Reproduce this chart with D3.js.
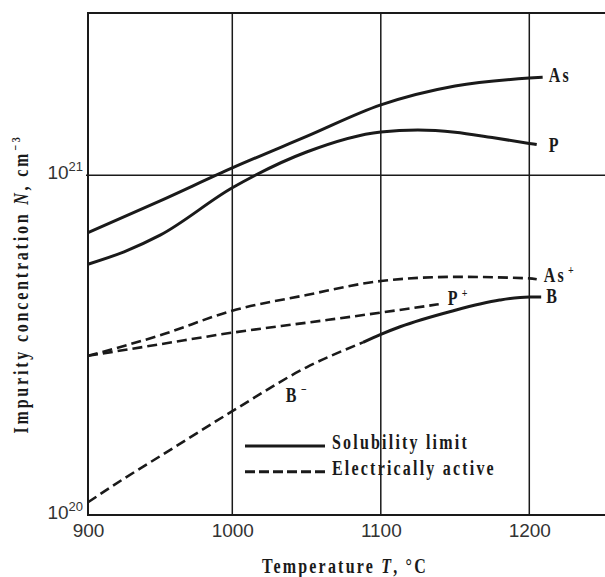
<!DOCTYPE html>
<html>
<head>
<meta charset="utf-8">
<script src="https://cdn.jsdelivr.net/npm/d3@7"></script>
<style>
  html, body { margin: 0; padding: 0; background: #fff; }
  svg { display: block; }
  .serif { font-family: "Liberation Serif", "Times New Roman", serif; font-weight: bold; fill: #1a1a1a; }
  .tick text { font-family: "Liberation Sans", Arial, sans-serif; fill: #333; }
</style>
</head>
<body>
<svg id="chart" width="605" height="577"></svg>
<script>
// ---- data ----
const xTickValues = [900, 1000, 1100, 1200];
const yTickValues = [1e20, 1e21];

const asT = [900, 950, 1000, 1050, 1100, 1150, 1200, 1209];
const asN = [6.78e20, 8.4e20, 1.05e21, 1.30e21, 1.61e21, 1.83e21, 1.93e21, 1.94e21];

const pT = [900, 925, 950, 1000, 1050, 1100, 1125, 1150, 1175, 1200, 1205];
const pN = [5.47e20, 5.95e20, 6.66e20, 9.18e20, 1.17e21, 1.34e21, 1.357e21, 1.338e21, 1.29e21, 1.24e21, 1.23e21];

const asPlusT = [900, 950, 1000, 1050, 1100, 1150, 1200, 1205];
const asPlusN = [2.94e20, 3.38e20, 3.99e20, 4.44e20, 4.88e20, 5.02e20, 4.97e20, 4.94e20];

const pPlusT = [900, 950, 1000, 1050, 1100, 1139];
const pPlusN = [2.94e20, 3.18e20, 3.44e20, 3.68e20, 3.94e20, 4.17e20];

const bMinusT = [900, 925, 950, 1000, 1050, 1088];
const bMinusN = [1.09e20, 1.28e20, 1.49e20, 2.02e20, 2.72e20, 3.22e20];

const bT = [1088, 1100, 1113, 1147, 1180, 1200, 1208];
const bN = [3.22e20, 3.40e20, 3.58e20, 3.97e20, 4.29e20, 4.38e20, 4.38e20];

const legendLabels = ["Solubility limit", "Electrically active"];

// ---- scales ----
const svg = d3.select("#chart");
const ink = "#1a1a1a";
const x = d3.scaleLinear()
  .domain([900, 1000, 1100, 1200, 1250])
  .range([88, 232.3, 380.8, 529.3, 603.5]);
const y = d3.scaleLog().domain([1e20, 3e21]).range([515, 13]);

const plotLeft = 88, plotRight = 607, plotTop = 13, plotBottom = 515;

// ---- grid ----
const grid = svg.append("g");
grid.selectAll("line.vg").data(xTickValues.slice(1)).join("line")
  .attr("x1", d => x(d)).attr("x2", d => x(d))
  .attr("y1", plotTop).attr("y2", plotBottom)
  .attr("stroke", ink).attr("stroke-width", 1.5);
grid.selectAll("line.hg").data([1e21]).join("line")
  .attr("x1", plotLeft - 2).attr("x2", plotRight)
  .attr("y1", d => y(d)).attr("y2", d => y(d))
  .attr("stroke", ink).attr("stroke-width", 1.5);

// frame: top, left, bottom
svg.append("line").attr("x1", plotLeft - 1).attr("x2", plotRight).attr("y1", plotTop).attr("y2", plotTop)
  .attr("stroke", ink).attr("stroke-width", 2);
svg.append("line").attr("x1", plotLeft).attr("x2", plotLeft).attr("y1", plotTop).attr("y2", plotBottom + 1)
  .attr("stroke", ink).attr("stroke-width", 2);
svg.append("line").attr("x1", plotLeft - 1).attr("x2", plotRight).attr("y1", plotBottom).attr("y2", plotBottom)
  .attr("stroke", ink).attr("stroke-width", 2);

// ---- axes (labels only) ----
const xAxis = svg.append("g").attr("transform", `translate(0,${plotBottom})`)
  .call(d3.axisBottom(x).tickValues(xTickValues).tickSize(0).tickPadding(9).tickFormat(d3.format("d")));
xAxis.select(".domain").remove();
xAxis.selectAll("text").attr("font-size", 19).attr("dy", "0.71em");

const yAxis = svg.append("g").attr("transform", `translate(${plotLeft},0)`)
  .call(d3.axisLeft(y).tickValues(yTickValues).tickSize(0).tickPadding(0).tickFormat(() => ""));
yAxis.select(".domain").remove();
yAxis.selectAll(".tick text").each(function(d) {
  const t = d3.select(this);
  t.attr("x", -5).attr("dy", "0.33em").attr("text-anchor", "end");
  t.append("tspan").attr("font-size", 19).text("10");
  t.append("tspan").attr("font-size", 13).attr("dy", -8).text(String(Math.round(Math.log10(d))));
});

// ---- curves ----
const line = d3.line().x(d => x(d[0])).y(d => y(d[1])).curve(d3.curveMonotoneX);
const zip = (a, b) => a.map((t, i) => [t, b[i]]);
const series = [
  { T: asT, N: asN, dash: null },
  { T: pT, N: pN, dash: null },
  { T: bT, N: bN, dash: null },
  { T: asPlusT, N: asPlusN, dash: "10,5" },
  { T: pPlusT, N: pPlusN, dash: "10,5" },
  { T: bMinusT, N: bMinusN, dash: "10,5" }
];
svg.append("g").selectAll("path").data(series).join("path")
  .attr("d", d => line(zip(d.T, d.N)))
  .attr("fill", "none").attr("stroke", ink)
  .attr("stroke-width", d => d.dash ? 2.6 : 3)
  .attr("stroke-dasharray", d => d.dash);

// ---- labels (stretched bold serif) ----
function label(px, py, main, sup, supDy) {
  const g = svg.append("g").attr("transform", `translate(${px},${py}) scale(1,1.3)`);
  const t = g.append("text").attr("class", "serif").attr("font-size", 16).attr("letter-spacing", 2.2);
  t.append("tspan").text(main);
  if (sup) t.append("tspan").attr("font-size", 10).attr("dy", supDy).attr("dx", 2).text(sup);
  return t;
}
const endOf = (T, N) => [x(T[T.length - 1]), y(N[N.length - 1])];
let e;
e = endOf(asT, asN);        label(e[0] + 6, e[1] + 5, "As");
e = endOf(pT, pN);          label(e[0] + 12, e[1] + 7.5, "P");
e = endOf(asPlusT, asPlusN); label(e[0] + 7, e[1] + 3, "As", "+", -6);
e = endOf(bT, bN);          label(e[0] + 5, e[1] + 6.5, "B");
e = endOf(pPlusT, pPlusN);  label(e[0] + 9, e[1] + 1, "P", "+", -6);
label(x(1036), y(2.15e20), "B", "\u2212", -6);

// ---- legend ----
const lg = svg.append("g");
legendLabels.forEach((txt, i) => {
  const ly = 446 + i * 25.7;
  lg.append("line").attr("x1", 245).attr("x2", 325).attr("y1", ly).attr("y2", ly)
    .attr("stroke", ink).attr("stroke-width", 3)
    .attr("stroke-dasharray", i === 1 ? "10,4" : null);
  const g = lg.append("g").attr("transform", `translate(332,${ly + 3.2}) scale(1,1.3)`);
  g.append("text").attr("class", "serif").attr("font-size", 16).attr("letter-spacing", 2.2).text(txt);
});

// ---- axis titles ----
{
  const g = svg.append("g").attr("transform", `translate(262,572.5) scale(1,1.3)`);
  const t = g.append("text").attr("class", "serif").attr("font-size", 16).attr("letter-spacing", 2.2);
  t.append("tspan").text("Temperature ");
  t.append("tspan").attr("font-style", "italic").text("T");
  t.append("tspan").text(", \u00B0C");
}
{
  const g = svg.append("g").attr("transform", `translate(28,284) rotate(-90) scale(1,1.3)`);
  const t = g.append("text").attr("class", "serif").attr("font-size", 16).attr("letter-spacing", 2.8)
    .attr("text-anchor", "middle");
  t.append("tspan").text("Impurity concentration ");
  t.append("tspan").attr("font-style", "italic").text("N");
  t.append("tspan").text(", cm");
  t.append("tspan").attr("font-size", 10).attr("dy", -6).text("\u22123");
}
</script>
</body>
</html>
